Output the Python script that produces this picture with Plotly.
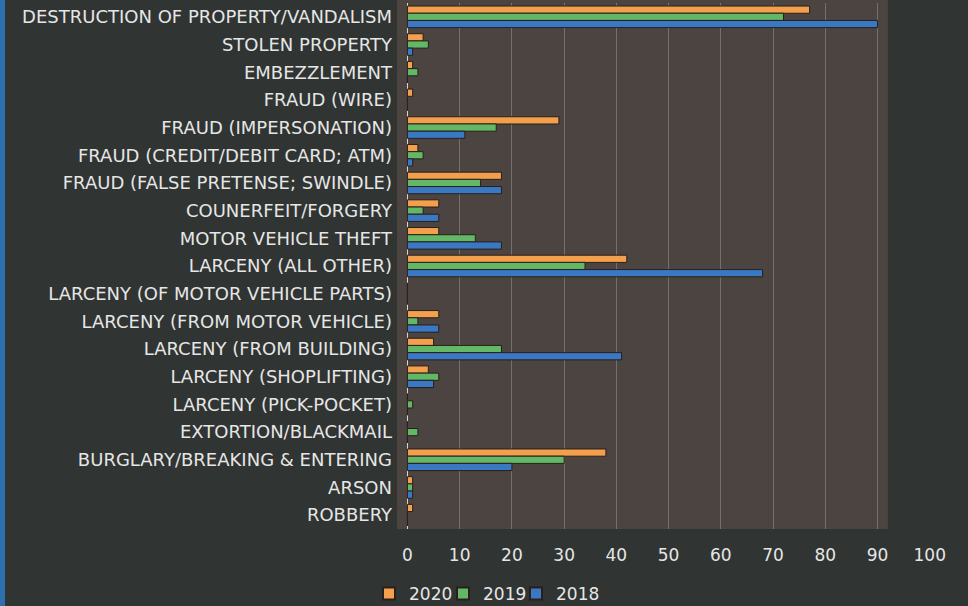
import plotly.graph_objects as go

categories = [
    "DESTRUCTION OF PROPERTY/VANDALISM",
    "STOLEN PROPERTY",
    "EMBEZZLEMENT",
    "FRAUD (WIRE)",
    "FRAUD (IMPERSONATION)",
    "FRAUD (CREDIT/DEBIT CARD; ATM)",
    "FRAUD (FALSE PRETENSE; SWINDLE)",
    "COUNERFEIT/FORGERY",
    "MOTOR VEHICLE THEFT",
    "LARCENY (ALL OTHER)",
    "LARCENY (OF MOTOR VEHICLE PARTS)",
    "LARCENY (FROM MOTOR VEHICLE)",
    "LARCENY (FROM BUILDING)",
    "LARCENY (SHOPLIFTING)",
    "LARCENY (PICK-POCKET)",
    "EXTORTION/BLACKMAIL",
    "BURGLARY/BREAKING & ENTERING",
    "ARSON",
    "ROBBERY",
]
values_2020 = [77, 3, 1, 1, 29, 2, 18, 6, 6, 42, 0, 6, 5, 4, 0, 0, 38, 1, 1]
values_2019 = [72, 4, 2, 0, 17, 3, 14, 3, 13, 34, 0, 2, 18, 6, 1, 2, 30, 1, 0]
values_2018 = [90, 1, 0, 0, 11, 1, 18, 6, 18, 68, 0, 6, 41, 5, 0, 0, 20, 1, 0]
x_ticks = [0, 10, 20, 30, 40, 50, 60, 70, 80, 90, 100]

series = [
    ("2020", values_2020, "#f2a04e", "legend"),
    ("2019", values_2019, "#62b867", "legend2"),
    ("2018", values_2018, "#3a78c4", "legend3"),
]

FONT = "DejaVu Sans"
L, R, T, B = 397, 38, 3, 77
PW = 968 - L - R
PH = 606 - T - B
fig = go.Figure()
for name, vals, col, lg in series:
    fig.add_trace(go.Bar(
        y=categories, x=vals, name=name, orientation="h", legend=lg,
        marker=dict(color=col, line=dict(color="#2a1f1a", width=1)),
    ))


def legend_at(px_left):
    return dict(orientation="h", x=(px_left - L) / PW, xanchor="left",
                y=-(576 - (606 - B)) / PH, yanchor="top", yref="paper",
                font=dict(size=17, color="#e6e6e6"), bgcolor="rgba(0,0,0,0)",
                itemwidth=30, itemsizing="constant")


fig.update_layout(
    width=968, height=606,
    barmode="group", bargap=0.22, bargroupgap=0.0,
    paper_bgcolor="#303432",
    plot_bgcolor="rgba(0,0,0,0)",
    margin=dict(l=L, r=R, t=T, b=B, autoexpand=False),
    font=dict(family=FONT, color="#e6e6e6", size=16),
    showlegend=True,
    legend=legend_at(369),
    legend2=legend_at(443),
    legend3=legend_at(516),
    shapes=[
        dict(type="rect", xref="x", yref="paper", x0=-2, x1=92, y0=0, y1=1.01,
             fillcolor="#4b4441", line=dict(width=0), layer="below"),
        dict(type="rect", xref="paper", yref="paper", x0=-L / PW, x1=-(L - 5) / PW, y0=-0.2, y1=1.01,
             fillcolor="#2f6fb0", line=dict(width=0), layer="below"),
    ],
)
fig.update_xaxes(
    range=[-2, 100.05], tickvals=x_ticks, showgrid=True,
    gridcolor="rgba(200,195,190,0.35)", gridwidth=1,
    zeroline=True, zerolinecolor="#d8d4d0", zerolinewidth=1,
    tickfont=dict(size=17, color="#e6e6e6"), ticklabelstandoff=14,
    showline=False, automargin=False,
)
fig.update_yaxes(
    autorange="reversed", showgrid=False, ticklabelstandoff=4,
    tickfont=dict(size=18, color="#e6e6e6"), automargin=False,
)
fig.write_html("out.html", config={"displayModeBar": False},
               post_script="document.body.style.margin='0';")
